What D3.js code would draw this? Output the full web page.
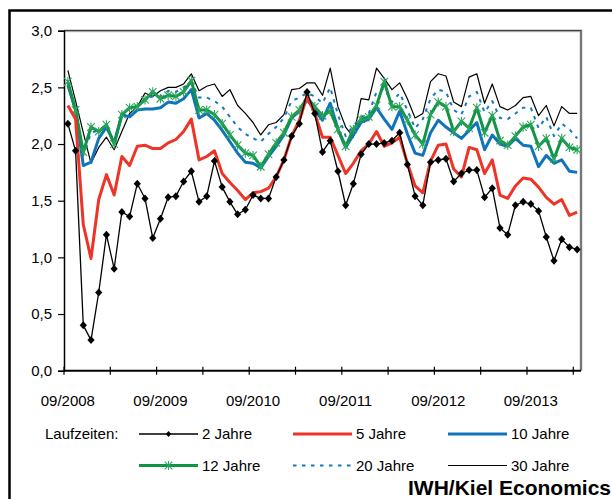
<!DOCTYPE html>
<html>
<head>
<meta charset="utf-8">
<script src="https://cdn.jsdelivr.net/npm/d3@7"></script>
<style>
  body { margin: 0; background: #fff; }
  text { font-family: "Liberation Sans", Arial, sans-serif; }
</style>
</head>
<body>
<div id="chart"></div>
<script>
// Monatswerte 09/2008 bis 03/2014
var months = d3.timeMonth.range(new Date(2008, 8, 1), new Date(2014, 3, 1));
var xTickLabels = ["09/2008", "09/2009", "09/2010", "09/2011", "09/2012", "09/2013"];
var yTicks = [0, 0.5, 1, 1.5, 2, 2.5, 3];

var jahre2 = [2.18,1.94,0.40,0.27,0.69,1.20,0.90,1.40,1.36,1.65,1.52,1.17,1.34,1.53,1.54,1.67,1.76,1.49,1.54,1.85,
  1.62,1.49,1.38,1.42,1.55,1.52,1.52,1.71,1.86,2.07,2.18,2.46,2.27,1.93,2.03,1.76,1.46,1.65,1.91,2.00,
  2.00,2.01,2.03,2.10,1.82,1.54,1.46,1.84,1.86,1.87,1.67,1.74,1.77,1.77,1.53,1.61,1.26,1.20,1.46,1.49,
  1.47,1.41,1.18,0.97,1.16,1.09,1.07];
var jahre5 = [2.34,2.22,1.29,0.99,1.51,1.73,1.55,1.89,1.81,1.98,1.99,1.96,1.96,2.01,2.04,2.11,2.22,1.86,1.89,1.94,
  1.74,1.66,1.59,1.51,1.57,1.58,1.61,1.71,1.86,2.07,2.21,2.42,2.27,2.06,2.06,1.90,1.74,1.83,1.94,2.00,
  2.11,1.98,2.01,2.06,1.83,1.63,1.57,1.85,1.99,2.00,1.78,1.71,1.97,1.95,1.74,1.86,1.55,1.52,1.63,1.70,
  1.69,1.62,1.53,1.47,1.51,1.37,1.40];
var jahre10 = [2.52,2.30,1.81,1.84,2.05,2.15,2.01,2.26,2.24,2.30,2.31,2.31,2.32,2.37,2.36,2.40,2.48,2.23,2.27,2.21,
  2.12,2.02,1.92,1.84,1.83,1.79,1.89,1.98,2.08,2.23,2.29,2.39,2.30,2.21,2.36,2.13,1.97,2.08,2.19,2.22,
  2.32,2.22,2.13,2.29,2.09,1.92,1.90,2.10,2.21,2.15,2.10,2.05,2.12,2.19,1.95,2.08,2.00,1.98,2.05,1.99,
  1.98,1.80,1.90,1.83,1.86,1.76,1.75];
var jahre12 = [2.55,2.30,1.93,2.15,2.11,2.17,2.00,2.26,2.32,2.33,2.39,2.46,2.40,2.43,2.42,2.46,2.56,2.30,2.30,2.26,
  2.18,2.08,1.99,1.92,1.90,1.80,1.91,2.01,2.10,2.24,2.30,2.41,2.33,2.25,2.29,2.13,1.98,2.13,2.22,2.24,
  2.34,2.55,2.33,2.33,2.21,2.08,2.00,2.26,2.37,2.33,2.11,2.20,2.14,2.32,2.10,2.25,2.03,1.99,2.07,2.15,
  2.17,1.98,2.05,1.87,2.05,1.97,1.95];
var jahre20 = [2.53,2.28,1.90,2.10,2.12,2.17,2.01,2.27,2.32,2.34,2.40,2.42,2.42,2.47,2.46,2.50,2.55,2.41,2.41,2.38,
  2.33,2.24,2.15,2.09,2.05,2.02,2.09,2.15,2.23,2.38,2.41,2.45,2.42,2.36,2.50,2.26,2.07,2.16,2.24,2.27,
  2.46,2.49,2.37,2.45,2.30,2.14,2.22,2.40,2.48,2.46,2.30,2.26,2.42,2.46,2.28,2.38,2.23,2.22,2.27,2.32,
  2.32,2.14,2.24,2.07,2.18,2.13,2.05];
var jahre30 = [2.65,2.38,2.10,1.83,1.97,2.06,1.95,2.11,2.27,2.33,2.45,2.42,2.47,2.50,2.50,2.53,2.62,2.47,2.51,2.53,
  2.42,2.48,2.34,2.27,2.19,2.08,2.17,2.19,2.26,2.48,2.49,2.54,2.54,2.43,2.67,2.33,2.15,2.06,2.40,2.39,
  2.67,2.58,2.48,2.54,2.40,2.23,2.27,2.55,2.62,2.60,2.37,2.33,2.59,2.62,2.36,2.53,2.33,2.30,2.34,2.41,
  2.42,2.25,2.34,2.16,2.33,2.27,2.27];

var width = 612, height = 499;
var plotLeft = 64, plotRight = 581, plotTop = 30.7, plotBottom = 370.7;

var svg = d3.select("#chart").append("svg")
  .attr("width", width)
  .attr("height", height);

// Rahmen aussen
svg.append("path")
  .attr("d", "M9.5," + height + "V10.5H" + width)
  .attr("fill", "none")
  .attr("stroke", "#000")
  .attr("stroke-width", 2.5);

var x = d3.scaleBand()
  .domain(d3.range(months.length))
  .range([plotLeft, plotRight])
  .paddingInner(0).paddingOuter(0);
var bw = x.bandwidth();
var cx = function(i) { return x(i) + bw / 2; };

var y = d3.scaleLinear().domain([0, 3]).range([plotBottom, plotTop]);

// Plotfläche
var frame = "M" + plotLeft + "," + plotTop + "H" + plotRight + "V" + plotBottom;
svg.append("path")
  .attr("d", frame)
  .attr("fill", "none")
  .attr("stroke", "#c8c8c8")
  .attr("stroke-width", 3);
svg.append("path")
  .attr("d", frame)
  .attr("fill", "none")
  .attr("stroke", "#444")
  .attr("stroke-width", 1.2);

// y-Achse
var yAxis = d3.axisLeft(y)
  .tickValues(yTicks)
  .tickSize(6)
  .tickPadding(6)
  .tickFormat(function(d) { return d3.format(".1f")(d).replace(".", ","); });
var gy = svg.append("g").attr("transform", "translate(" + plotLeft + ",0)").call(yAxis);
gy.select(".domain").attr("stroke-width", 1.5);
gy.selectAll(".tick line").attr("stroke-width", 1.2);
gy.selectAll("text").style("font-size", "15px").attr("fill", "#000");

// x-Achse: Striche alle 6 Monate
var tickIdx = d3.range(0, months.length, 6);
var gx = svg.append("g");
gx.append("line")
  .attr("x1", plotLeft).attr("x2", plotRight)
  .attr("y1", plotBottom).attr("y2", plotBottom)
  .attr("stroke", "#000").attr("stroke-width", 2);
gx.selectAll("line.tk")
  .data(tickIdx)
  .enter().append("line")
  .attr("class", "tk")
  .attr("x1", function(d) { return x(d); })
  .attr("x2", function(d) { return x(d); })
  .attr("y1", plotBottom - 4).attr("y2", plotBottom + 4)
  .attr("stroke", "#000").attr("stroke-width", 1.2);
gx.selectAll("text")
  .data(xTickLabels)
  .enter().append("text")
  .attr("x", function(d, i) { return cx(i * 12); })
  .attr("y", 406)
  .attr("text-anchor", "middle")
  .style("font-size", "15px")
  .text(function(d) { return d; });

var line = d3.line()
  .x(function(d, i) { return cx(i); })
  .y(function(d) { return y(d); });

var diamond = "M0,-4L3.6,0L0,4L-3.6,0Z";
var star = "M-3.8,-3.8L3.8,3.8M-3.8,3.8L3.8,-3.8M0,-4.6V4.6";

var series = [
  { name: "30 Jahre", data: jahre30, color: "#000", w: 1.2, dash: null },
  { name: "20 Jahre", data: jahre20, color: "#1479c4", w: 2, dash: "3.5,5.5" },
  { name: "10 Jahre", data: jahre10, color: "#0f74bc", w: 3, dash: null },
  { name: "12 Jahre", data: jahre12, color: "#129447", w: 3, dash: null, marker: "star" },
  { name: "5 Jahre", data: jahre5, color: "#ee3426", w: 3, dash: null },
  { name: "2 Jahre", data: jahre2, color: "#000", w: 1.3, dash: null, marker: "diamond" }
];

series.forEach(function(s) {
  svg.append("path")
    .datum(s.data)
    .attr("d", line)
    .attr("fill", "none")
    .attr("stroke", s.color)
    .attr("stroke-width", s.w)
    .attr("stroke-dasharray", s.dash)
    .attr("stroke-linejoin", "round");
  if (s.marker == "diamond") {
    svg.selectAll(null).data(s.data).enter().append("path")
      .attr("d", diamond)
      .attr("transform", function(d, i) { return "translate(" + cx(i) + "," + y(d) + ")"; })
      .attr("fill", "#000");
  }
  if (s.marker == "star") {
    svg.selectAll(null).data(s.data).enter().append("path")
      .attr("d", star)
      .attr("transform", function(d, i) { return "translate(" + cx(i) + "," + y(d) + ")"; })
      .attr("fill", "none")
      .attr("stroke", "#2ba55c")
      .attr("stroke-width", 1.1);
  }
});

// Legende
var legend = [
  { name: "2 Jahre", color: "#000", w: 1.3, dash: null, marker: "diamond", x0: 139, row: 0 },
  { name: "5 Jahre", color: "#ee3426", w: 3, dash: null, x0: 293, row: 0 },
  { name: "10 Jahre", color: "#0f74bc", w: 3, dash: null, x0: 448, row: 0 },
  { name: "12 Jahre", color: "#129447", w: 3, dash: null, marker: "star", x0: 139, row: 1 },
  { name: "20 Jahre", color: "#1479c4", w: 2, dash: "3.5,5.5", x0: 293, row: 1 },
  { name: "30 Jahre", color: "#000", w: 1.2, dash: null, x0: 448, row: 1 }
];
var rowY = [434, 465.5];

svg.append("text")
  .attr("x", 45).attr("y", rowY[0])
  .attr("dy", "0.35em")
  .style("font-size", "15px")
  .text("Laufzeiten:");

legend.forEach(function(l) {
  var ly = rowY[l.row];
  svg.append("line")
    .attr("x1", l.x0).attr("x2", l.x0 + 59)
    .attr("y1", ly).attr("y2", ly)
    .attr("stroke", l.color)
    .attr("stroke-width", l.w)
    .attr("stroke-dasharray", l.dash);
  if (l.marker == "diamond") {
    svg.append("path").attr("d", "M0,-3L2.7,0L0,3L-2.7,0Z")
      .attr("transform", "translate(" + (l.x0 + 29.5) + "," + ly + ")")
      .attr("fill", "#000");
  }
  if (l.marker == "star") {
    svg.append("path").attr("d", star)
      .attr("transform", "translate(" + (l.x0 + 29.5) + "," + ly + ")")
      .attr("fill", "none").attr("stroke", "#2ba55c").attr("stroke-width", 1.1);
  }
  svg.append("text")
    .attr("x", l.x0 + 63).attr("y", ly)
    .attr("dy", "0.35em")
    .style("font-size", "15px")
    .text(l.name);
});

svg.append("text")
  .attr("x", 408).attr("y", 495)
  .style("font-size", "21px")
  .style("font-weight", "bold")
  .text("IWH/Kiel Economics");
</script>
</body>
</html>
